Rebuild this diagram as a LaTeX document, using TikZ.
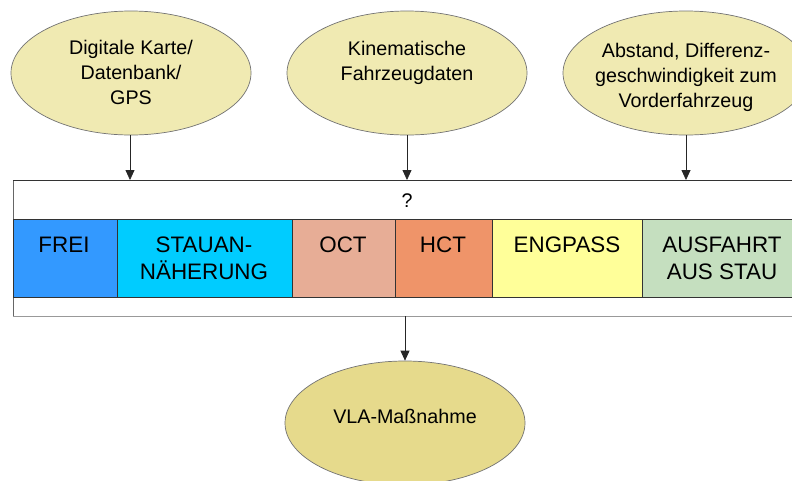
\documentclass[tikz,border=0pt]{standalone}
\usepackage{fontspec}
\setmainfont{Liberation Sans}
\usetikzlibrary{shapes.geometric,arrows.meta}
\definecolor{ellfill}{HTML}{F0EAB2}
\definecolor{ellfilldark}{HTML}{E6DA8C}
\definecolor{cfrei}{HTML}{3399FF}
\definecolor{cstau}{HTML}{00CCFF}
\definecolor{coct}{HTML}{E7AD96}
\definecolor{chct}{HTML}{EF9469}
\definecolor{ceng}{HTML}{FFFF99}
\definecolor{caus}{HTML}{C5DFBF}
\tikzset{
  x=1pt, y=-1pt,
  bubble/.style={ellipse, draw=black!55, line width=0.7pt, fill=ellfill,
    inner sep=0pt, minimum width=240pt, minimum height=124pt},
  % multi-line texts are placed by the baseline of their last line
  bubbletext/.style={anchor=base, align=center, inner sep=0pt,
    font=\fontsize{19.7}{24.6}\selectfont},
  segment/.style={draw=black!80, line width=0.8pt, anchor=north west,
    inner sep=0pt, minimum height=78pt},
  segtext/.style={anchor=base, align=center, inner sep=0pt,
    font=\fontsize{22.4}{27}\selectfont},
  flow/.style={draw=black!85, line width=0.8pt,
    -{Triangle[length=10pt,width=9pt]}},
}
\begin{document}
\begin{tikzpicture}
\clip (0,0) rectangle (792,480);
\fill[white] (0,0) rectangle (792,480);

% information sources
\node[bubble] (src1) at (131,73) {};
\node[bubble] (src2) at (407,73) {};
\node[bubble, minimum width=246pt] (src3) at (686,73) {};
\node[bubbletext] (src1t) at (131,104) {Digitale Karte/\\Datenbank/\\GPS};
\node[bubbletext] (src2t) at (407,80) {Kinematische\\Fahrzeugdaten};
\node[bubbletext] (src3t) at (686,107) {Abstand, Differenz-\\geschwindigkeit zum\\Vorderfahrzeug};

% situation classifier frame
\node[draw=black!60, line width=0.8pt, fill=white, anchor=north west,
  inner sep=0pt, minimum width=800pt, minimum height=136pt] (frame) at (13,180) {};
\draw[black!40, line width=1.2pt] (frame.south west) -- (frame.south east);
\draw[black!80, line width=0.8pt] (frame.north west) -- (frame.north east);
\node[bubbletext] (qmark) at (407,207) {?};

% traffic states
\node[segment, fill=cfrei, minimum width=104pt] (frei) at (13,219) {};
\node[segment, fill=cstau, minimum width=175pt] (stau) at (117,219) {};
\node[segment, fill=coct,  minimum width=103pt] (oct)  at (292,219) {};
\node[segment, fill=chct,  minimum width=97pt]  (hct)  at (395,219) {};
\node[segment, fill=ceng,  minimum width=150pt] (eng)  at (492,219) {};
\node[segment, fill=caus,  minimum width=170pt] (aus)  at (642,219) {};
\node[segtext] (freit) at (64,252)  {FREI};
\node[segtext] (staut) at (204,279) {STAUAN-\\NÄHERUNG};
\node[segtext] (octt)  at (343,252) {OCT};
\node[segtext] (hctt)  at (443,252) {HCT};
\node[segtext] (engt)  at (567,252) {ENGPASS};
\node[segtext] (aust)  at (722,279) {AUSFAHRT\\AUS STAU};

% resulting measure
\node[bubble, fill=ellfilldark] (vla) at (405,423) {};
\node[bubbletext] (vlat) at (405,423) {VLA-Maßnahme};

% connectors
\coordinate (in1) at (130,180);
\coordinate (in2) at (407,180);
\coordinate (in3) at (686,180);
\coordinate (out) at (405,316);
\draw[flow] (src1.south -| in1) -- (in1);
\draw[flow] (src2.south) -- (in2);
\draw[flow] (src3.south) -- (in3);
\draw[flow] (out) -- (vla.north);
\end{tikzpicture}
\end{document}
